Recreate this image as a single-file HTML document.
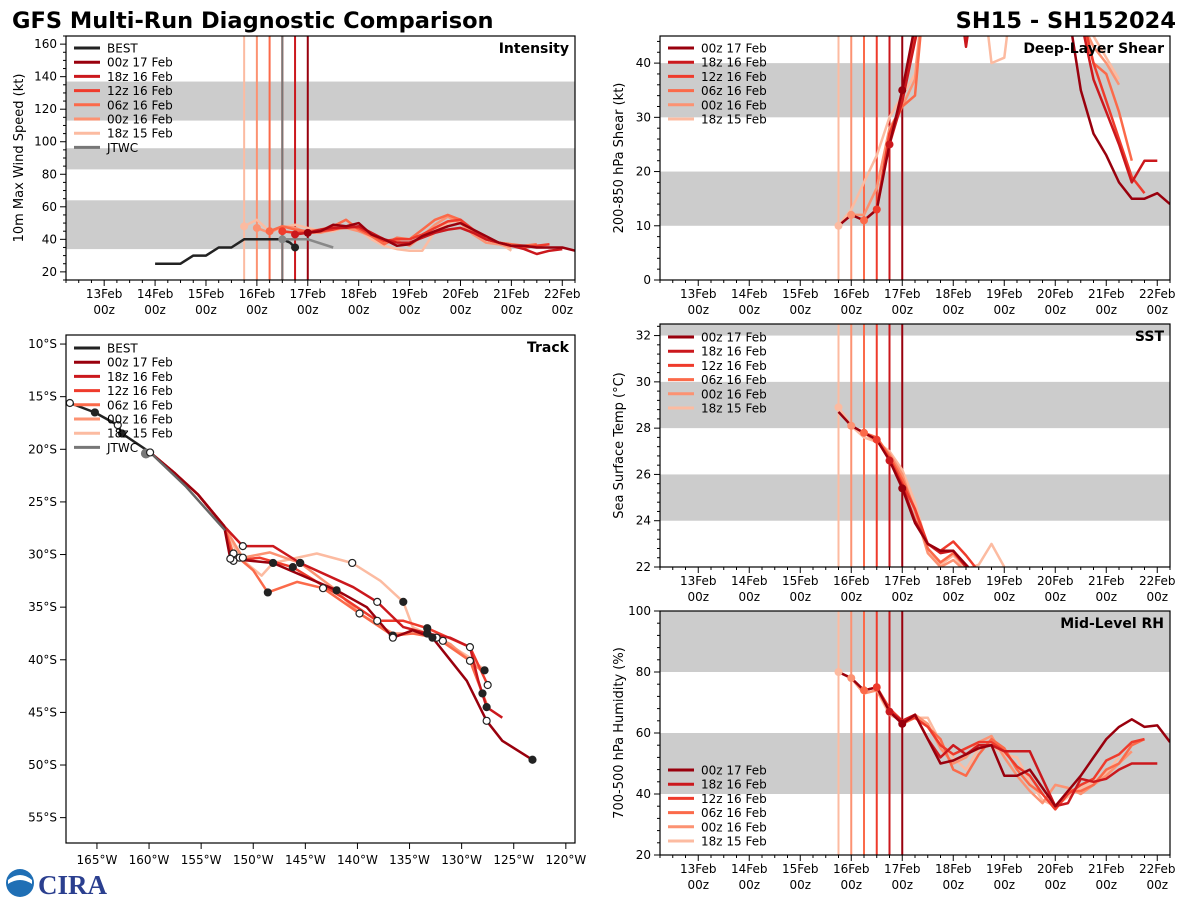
<!DOCTYPE html>
<html><head><meta charset="utf-8">
<style>
body{margin:0;background:#fff;}
svg{display:block;font-family:"DejaVu Sans","Liberation Sans",sans-serif;}
</style></head>
<body>
<svg id="fig" width="1200" height="900" viewBox="0 0 1200 900" xmlns="http://www.w3.org/2000/svg">
<text x="12" y="28" font-size="22.5" font-weight="bold" fill="#000">GFS Multi-Run Diagnostic Comparison</text>
<text x="1176" y="28" font-size="22.5" font-weight="bold" fill="#000" text-anchor="end">SH15 - SH152024</text>
<g>
<circle cx="20" cy="883" r="14" fill="#1f6fb5"/>
<path d="M8 880 Q20 870 32 880 L32 884 Q20 876 8 884Z" fill="#fff"/>
<text x="38" y="894" font-size="27" font-weight="bold" fill="#2b3f8f" font-family="Liberation Serif,serif">CIRA</text>
</g>
</svg>
<script>
// ---------------- DATA ----------------
const runNames = ["00z 17 Feb","18z 16 Feb","12z 16 Feb","06z 16 Feb","00z 16 Feb","18z 15 Feb"];
const runInit = [17.0,16.75,16.5,16.25,16.0,15.75];
const runColors = ["#99000d","#cb181d","#ef3b2c","#fb6a4a","#fc9272","#fcbba1"];
const bestTimes = [14.0,14.25,14.5,14.75,15.0,15.25,15.5,15.75,16.0,16.25,16.5,16.65,16.75];
const bestVmax = [25,25,25,30,30,35,35,40,40,40,40,38,35];
const jtwcTimes = [16.5,17.0,17.5];
const jtwcVmax = [40,40,35];
const vmax00z17 = [44,45,49,48,50,43,40,36,37,42,45,48,50,46,42,38,36,36,35,35,35,33];
const vmax18z16 = [43,44,46,47,47,48,44,40,38,38,41,44,46,47,44,40,38,36,34,31,33,34];
const vmax12z16 = [45,44,44,45,46,48,47,43,39,40,40,43,47,51,52,46,40,38,36,35,36,37];
const vmax06z16 = [45,48,46,45,46,48,52,46,42,37,41,40,46,52,55,52,45,40,38,37,36,37];
const vmax00z16 = [47,44,48,47,44,44,46,47,45,42,38,39,36,42,49,54,50,43,38,37,35];
const vmax18z15 = [48,52,45,47,49,47,45,45,48,46,40,36,34,33,33,45,50,52,44,40,38,33];
const shearStart = [15.75,16.75,16.5,16.25,16.0,15.75];
const shear00z17 = [10,12,11,13,25,35,47,60,60,60,60,60,60,60,60,60,60,60,50,35,27,23,18,15,15,16,14];
const shear18z16 = [25,33,44,55,60,60,43,60,60,60,60,60,60,60,60,48,37,31,25,18,22,22];
const shear12z16 = [13,27,33,45,60,60,60,60,60,60,60,60,60,60,60,60,50,40,33,26,19,16];
const shear06z16 = [11,13,27,32,34,60,60,60,60,60,60,60,60,60,60,60,60,48,40,38,31,22];
const shear00z16 = [12,12,17,28,32,37,60,60,60,60,60,60,60,60,60,60,60,60,48,43,40,36];
const shear18z15 = [10,13,18,23,30,34,38,60,60,60,60,60,40,41,60,60,60,60,60,47,45,41,37];
const sstStart = [15.75,16.75,16.5,16.25,16.0,15.75];
const sst00z17 = [28.7,28.1,27.8,27.5,26.6,25.4,23.9,23.0,22.7,22.7,22.1,21.5];
const sst18z16 = [26.6,25.5,24.0,23.0,22.6,22.7,22.0,21.5];
const sst12z16 = [27.5,26.7,25.6,24.5,23.0,22.7,23.1,22.5,21.8];
const sst06z16 = [27.8,27.6,26.8,25.8,24.5,22.8,22.2,22.6,22.0];
const sst00z16 = [28.1,27.8,27.4,26.9,26.0,24.4,22.6,22.0,22.3,21.8];
const sst18z15 = [28.9,28.1,27.6,27.4,27.0,26.2,24.8,22.8,22.1,22.5,21.9,22.1,23.0,22.0];
const rhStart = [15.75,16.75,16.5,16.25,16.0,15.75];
const rh00z17 = [80,78,74,75,67,63,66,58,50,51,53,55,56,46,46,48,42,36,41,46,52,58,62,64.5,62,62.5,57];
const rh18z16 = [67,64,66,58,52,56,53,56,56,54,54,54,45,36,37,45,44,45,48,50,50,50];
const rh12z16 = [75,68,64,65,62,56,53,55,57,57,54,49,46,40,35,40,43,45,51,53,57,58];
const rh06z16 = [74,75,68,63,65,62,58,48,46,53,58,55,48,43,40,35,41,41,43,48,50,56,58];
const rh00z16 = [78,73,74,67,64,66,63,55,50,52,57,59,52,46,41,37,43,42,40,43,46,50,54];
const rh18z15 = [80,78,73,74,66,64,65,65,57,52,48,55,56,53,52,44,38,36,39,42,44,47,52];
const trackBestLon = [-167.6,-165.2,-163.0,-162.6,-159.9];
const trackBestLat = [-15.6,-16.5,-17.7,-18.5,-20.3];
const trackJtwcLon = [-159.9,-156.5,-152.7];
const trackJtwcLat = [-20.3,-23.5,-27.7];
const trackLead = [[-159.9,-20.3],[-157.5,-22.3],[-155.3,-24.3],[-152.8,-27.3]];
const track00z17Lon = [-152.2,-148.1,-142.0,-139.1,-136.6,-134.7,-132.8,-129.5,-127.6,-126.1,-123.2];
const track00z17Lat = [-30.4,-30.8,-33.4,-35.0,-37.9,-37.2,-37.9,-42.0,-45.8,-47.7,-49.5];
const track18z16Lon = [-151.0,-148.1,-145.5,-140.4,-138.1,-135.6,-133.3,-131.1,-129.2,-128.4,-127.6,-126.1];
const track18z16Lat = [-29.2,-29.2,-30.8,-33.1,-34.5,-36.9,-37.5,-37.9,-38.8,-42.0,-44.5,-45.5];
const track12z16Lon = [-151.9,-149.4,-146.2,-141.4,-138.1,-135.6,-133.3,-129.2,-127.5];
const track12z16Lat = [-30.6,-30.3,-31.2,-34.1,-36.3,-36.3,-37.0,-38.8,-42.4];
const track06z16Lon = [-151.9,-150.0,-148.6,-145.8,-143.3,-139.8,-136.6,-134.7,-132.4,-129.2,-128.0,-127.6];
const track06z16Lat = [-29.9,-31.5,-33.6,-32.6,-33.2,-35.6,-37.7,-37.5,-37.9,-40.1,-43.2,-44.2];
const track00z16Lon = [-151.0,-148.4,-145.5,-142.4,-139.8,-136.6,-133.3,-131.1,-129.2,-127.8];
const track00z16Lat = [-30.3,-29.8,-30.8,-33.1,-35.6,-37.5,-37.5,-38.5,-40.1,-41.3];
const track18z15Lon = [-151.3,-149.2,-148.1,-143.9,-140.5,-137.8,-135.6,-134.7,-131.8,-129.2,-127.8];
const track18z15Lat = [-30.3,-32.0,-30.8,-29.9,-30.8,-32.5,-34.5,-36.9,-38.2,-39.8,-41.0];
const dayLabels = ["13Feb","14Feb","15Feb","16Feb","17Feb","18Feb","19Feb","20Feb","21Feb","22Feb"];
const lonTicks = [-165,-160,-155,-150,-145,-140,-135,-130,-125,-120];
const latTicks = [-10,-15,-20,-25,-30,-35,-40,-45,-50,-55];

// ---------------- DRAWING ----------------
const NS="http://www.w3.org/2000/svg";
const svg=document.getElementById('fig');
function mk(tag,attrs,parent){const e=document.createElementNS(NS,tag);for(const k in attrs)e.setAttribute(k,attrs[k]);(parent||svg).appendChild(e);return e;}
let clipId=0;
function panel(name,x0,y0,x1,y1,xmin,xmax,ymin,ymax){
  const g=mk('g',{});
  
  
  const id='c'+(clipId++);
  const cp=mk('clipPath',{id:id},g);mk('rect',{x:x0,y:y0,width:x1-x0,height:y1-y0},cp);
  const inner=mk('g',{'clip-path':'url(#'+id+')'},g);
  return {g,inner,x0,y0,x1,y1,
    sx:v=>x0+(v-xmin)/(xmax-xmin)*(x1-x0),
    sy:v=>y1-(v-ymin)/(ymax-ymin)*(y1-y0)};
}
function frame(P){const r=mk('rect',{x:P.x0,y:P.y0,width:P.x1-P.x0,height:P.y1-P.y0,fill:'none',stroke:'#000','stroke-width':1.2},P.g);}
function band(P,a,b){const r=mk('rect',{x:P.x0,y:P.sy(b),width:P.x1-P.x0,height:P.sy(a)-P.sy(b),fill:'#cccccc'},P.inner);}
function line(P,xs,ys,color,w,name){
  const pts=xs.map((x,i)=>P.sx(x).toFixed(1)+','+P.sy(ys[i]).toFixed(1)).join(' ');
  const l=mk('polyline',{points:pts,fill:'none',stroke:color,'stroke-width':w,'stroke-linejoin':'round'},P.inner);
  
  
  return l;
}
function dot(P,x,y,color,r,name,stroke){const c=mk('circle',{cx:P.sx(x),cy:P.sy(y),r:r,fill:color,stroke:stroke||'none','stroke-width':1.2},P.inner);}
function vline(P,x,color,name){const l=mk('line',{x1:P.sx(x),x2:P.sx(x),y1:P.y0,y2:P.y1,stroke:color,'stroke-width':2},P.inner);}
function timeAxis(P){
  for(let d=12.25;d<=22.26;d+=0.25){
    const major=Math.abs(d-Math.round(d))<1e-6;
    mk('line',{x1:P.sx(d),x2:P.sx(d),y1:P.y1,y2:P.y1+(major?6:3),stroke:'#000','stroke-width':1},P.g);
  }
  dayLabels.forEach((lab,i)=>{
    const x=P.sx(13+i);
    const t=mk('text',{x:x,y:P.y1+18,'font-size':12,'text-anchor':'middle'},P.g);t.textContent=lab;
    
    const t2=mk('text',{x:x,y:P.y1+34,'font-size':12,'text-anchor':'middle'},P.g);t2.textContent='00z';
    
  });
}
function yAxis(P,ymin,ymax,major,minor){
  for(let v=Math.ceil(ymin/minor)*minor;v<=ymax+1e-6;v+=minor){
    const isMaj=Math.abs(v/major-Math.round(v/major))<1e-6;
    const y=P.sy(v);
    mk('line',{x1:P.x0,x2:P.x0-(isMaj?6:3),y1:y,y2:y,stroke:'#000','stroke-width':1},P.g);
    if(isMaj){const t=mk('text',{x:P.x0-9,y:y+4,'font-size':12,'text-anchor':'end'},P.g);t.textContent=Math.round(v);
      }
  }
}
function ytitle(P,txt,x){const cy=(P.y0+P.y1)/2;const t=mk('text',{x:x,y:cy,'font-size':13,'text-anchor':'middle',transform:`rotate(-90 ${x} ${cy})`},P.g);t.textContent=txt;}
function ptitle(P,txt){const t=mk('text',{x:P.x1-6,y:P.y0+17,'font-size':14,'font-weight':'bold','text-anchor':'end'},P.g);t.textContent=txt;}
function legend(P,x,y,entries){
  entries.forEach((e,i)=>{
    const yy=y+i*14.2;
    mk('line',{x1:x,x2:x+26,y1:yy,y2:yy,stroke:e[1],'stroke-width':3},P.g);
    const t=mk('text',{x:x+33,y:yy+4.5,'font-size':12},P.g);t.textContent=e[0];
    
  });
}
function runSeries(P,starts,arrays,name){
  for(let r=5;r>=0;r--){
    const ys=arrays[r];const xs=ys.map((_,i)=>starts[r]+i*0.25);
    line(P,xs,ys,runColors[r],2.5,name+'-line-'+runNames[r].replace(/ /g,'-'));
  }
}
function runLines(P){for(let r=5;r>=0;r--)vline(P,runInit[r],runColors[r],'init-line-'+runNames[r].replace(/ /g,'-'));}
function initDots(P,starts,arrays){for(let r=5;r>=0;r--){const idx=Math.round((runInit[r]-starts[r])/0.25);dot(P,runInit[r],arrays[r][idx],runColors[r],4,'init-marker');}}

const I=panel('intensity-panel',66,36,575,280,12.25,22.25,15,165);
[[34,64],[83,96],[113,137]].forEach(b=>band(I,b[0],b[1]));
runLines(I);vline(I,16.5,'#777','jtwc-init-line');
line(I,bestTimes,bestVmax,'#222',2.5,'best-track-intensity');
dot(I,16.75,35,'#222',4,'best-end-marker');
line(I,jtwcTimes,jtwcVmax,'#888',2.5,'jtwc-intensity');
dot(I,16.5,40,'#888',4,'jtwc-marker');
const vm=[vmax00z17,vmax18z16,vmax12z16,vmax06z16,vmax00z16,vmax18z15];
runSeries(I,runInit,vm,'intensity');initDots(I,runInit,vm);
frame(I);timeAxis(I);yAxis(I,15,165,20,5);ytitle(I,'10m Max Wind Speed (kt)',23);ptitle(I,'Intensity');
legend(I,74,48,[['BEST','#222']].concat(runNames.map((n,i)=>[n,runColors[i]])).concat([['JTWC','#777']]));

const S=panel('shear-panel',660,36,1170,280,12.25,22.25,0,45);
band(S,10,20);band(S,30,40);runLines(S);
const sh=[shear00z17,shear18z16,shear12z16,shear06z16,shear00z16,shear18z15];
runSeries(S,shearStart,sh,'shear');initDots(S,shearStart,sh);
frame(S);timeAxis(S);yAxis(S,0,45,10,2);ytitle(S,'200-850 hPa Shear (kt)',623);ptitle(S,'Deep-Layer Shear');
legend(S,668,48,runNames.map((n,i)=>[n,runColors[i]]));

const T=panel('sst-panel',660,324,1170,567,12.25,22.25,22,32.5);
band(T,24,26);band(T,28,30);band(T,32,34);runLines(T);
const ss=[sst00z17,sst18z16,sst12z16,sst06z16,sst00z16,sst18z15];
runSeries(T,sstStart,ss,'sst');initDots(T,sstStart,ss);
frame(T);timeAxis(T);yAxis(T,22,32.5,2,0.4);ytitle(T,'Sea Surface Temp (°C)',623);ptitle(T,'SST');
legend(T,668,337,runNames.map((n,i)=>[n,runColors[i]]));

const R=panel('rh-panel',660,611,1170,855,12.25,22.25,20,100);
band(R,40,60);band(R,80,100);runLines(R);
const rh=[rh00z17,rh18z16,rh12z16,rh06z16,rh00z16,rh18z15];
runSeries(R,rhStart,rh,'rh');initDots(R,rhStart,rh);
frame(R);timeAxis(R);yAxis(R,20,100,20,4);ytitle(R,'700-500 hPa Humidity (%)',623);ptitle(R,'Mid-Level RH');
legend(R,668,770,runNames.map((n,i)=>[n,runColors[i]]));

const K=panel('track-panel',66,335,575,843,-167.97,-119.12,-57.41,-9.14);
const tl=[[track00z17Lon,track00z17Lat],[track18z16Lon,track18z16Lat],[track12z16Lon,track12z16Lat],[track06z16Lon,track06z16Lat],[track00z16Lon,track00z16Lat],[track18z15Lon,track18z15Lat]];
for(let r=5;r>=0;r--){
  const xs=trackLead.map(p=>p[0]).concat(tl[r][0]);const ys=trackLead.map(p=>p[1]).concat(tl[r][1]);
  line(K,xs,ys,runColors[r],2.5,'track-'+runNames[r].replace(/ /g,'-'));
}
line(K,trackJtwcLon,trackJtwcLat,'#666',2.5,'jtwc-track');
line(K,trackBestLon,trackBestLat,'#222',2.5,'best-track');
dot(K,-160.3,-20.4,'#777',5,'jtwc-marker');
trackBestLon.forEach((x,i)=>dot(K,x,trackBestLat[i],i%2?'#222':'#fff',3.5,'best-track-point','#222'));
for(let r=5;r>=0;r--){tl[r][0].forEach((x,i)=>{if(i%2===0)dot(K,x,tl[r][1][i],(i/2)%2?'#222':'#fff',3.5,'track-point','#222');});}
frame(K);
lonTicks.forEach(v=>{const x=K.sx(v);mk('line',{x1:x,x2:x,y1:K.y1,y2:K.y1+6,stroke:'#000'},K.g);
  const t=mk('text',{x:x,y:K.y1+21,'font-size':12,'text-anchor':'middle'},K.g);t.textContent=(-v)+'°W';
  });
latTicks.forEach(v=>{const y=K.sy(v);mk('line',{x1:K.x0,x2:K.x0-6,y1:y,y2:y,stroke:'#000'},K.g);
  const t=mk('text',{x:K.x0-9,y:y+4,'font-size':12,'text-anchor':'end'},K.g);t.textContent=(-v)+'°S';
  });
ptitle(K,'Track');
legend(K,74,348,[['BEST','#222']].concat(runNames.map((n,i)=>[n,runColors[i]])).concat([['JTWC','#777']]));
</script>
</body></html>
